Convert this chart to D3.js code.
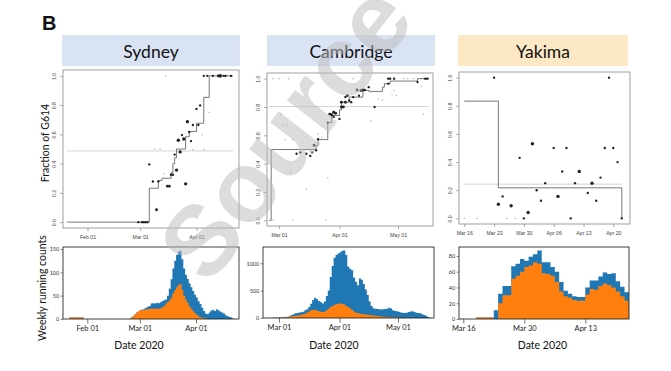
<!DOCTYPE html>
<html lang="en">
<head>
<meta charset="UTF-8">
<title>Fraction of G614</title>
<style>
  body { margin: 0; background: #fff; }
  svg { display: block; }
</style>
</head>
<body>
<svg width="671" height="371"></svg>
<script src="https://d3js.org/d3.v7.min.js"></script>
<script>
// ---- data ----
const cities = ["Sydney", "Cambridge", "Yakima"];
const fracTicks = [0, 0.2, 0.4, 0.6, 0.8, 1.0];

// Sydney
const sydStart = "2020-01-22";
const sydTotal = [3,3,3,3,3,3,3,3,0,0,
  0,0,0,0,0,0,0,0,0,0,0,0,0,0,0,0,0,0,0,0,0,0,0,0,3,6,10,14,17,
  20,20,22,24,26,28,33,34,33,35,34,36,38,40,42,50,65,85,108,125,137,144,147,128,108,95,86,76,68,60,52,
  46,38,32,24,17,12,10,14,18,20,17,21,19,16,14,12,8,6,5,3,1];
const sydG614 = [3,3,3,3,3,3,3,3,0,0,
  0,0,0,0,0,0,0,0,0,0,0,0,0,0,0,0,0,0,0,0,0,0,0,0,3,6,10,14,17,
  19,19,20,21,21,22,22,22,23,22,22,23,25,28,33,36,40,46,55,62,68,73,75,62,50,42,35,27,22,17,13,
  9,6,4,3,2,1,0,0,0,0,0,0,0,0,0,0,0,0,0,0,0];
const sydPoints = [
  ["2020-01-21",0,1],["2020-01-23",0,1],["2020-02-27",0,1],["2020-02-29",0,2],["2020-03-02",0,2],
  ["2020-03-03",0,2],["2020-03-04",0,2],["2020-03-05",0,2],["2020-03-06",0.395,2],["2020-03-08",0.278,2],
  ["2020-03-10",0.085,3],["2020-03-11",0.278,2],["2020-03-14",0.33,1],["2020-03-16",0.246,3],["2020-03-17",0.246,3],
  ["2020-03-18",0.324,2],["2020-03-19",0.324,2],["2020-03-21",0.356,4],["2020-03-20",0.462,2],["2020-03-22",0.56,4],
  ["2020-03-23",0.48,4],["2020-03-24",0.595,2],["2020-03-25",0.568,4],["2020-03-26",0.262,4],["2020-03-27",0.687,4],
  ["2020-03-28",0.616,2],["2020-03-29",0.554,2],["2020-03-30",0.664,2],["2020-03-30",0.497,1],["2020-04-01",0.774,2],
  ["2020-04-02",0.664,2],["2020-04-03",0.798,2],["2020-04-04",0.598,1],["2020-04-05",0.497,1],["2020-04-08",0.75,1],
  ["2020-03-09",0.5,1],["2020-03-12",0.5,1],["2020-03-15",1,1],["2020-04-05",1,2],["2020-04-07",1,2],
  ["2020-04-10",1,2],["2020-04-13",1,3],["2020-04-14",1,5],["2020-04-16",1,2],["2020-04-17",1,2],["2020-04-20",1,2]];
const sydStep = [["2020-01-21",0],["2020-03-06",0.232],["2020-03-11",0.285],["2020-03-13",0.30],["2020-03-18",0.338],
  ["2020-03-19",0.40],["2020-03-20",0.44],["2020-03-21",0.50],["2020-03-26",0.584],["2020-03-28",0.62],
  ["2020-04-01",0.676],["2020-04-05",0.853],["2020-04-08",1.0],["2020-04-21",1.0]];
const sydMean = 0.487;
const sydTopTicks = ["2020-02-01", "2020-03-01", "2020-04-01"];
const sydBotTicks = ["2020-02-01", "2020-03-01", "2020-04-01"];
const sydCountTicks = [0, 50, 100, 150];

// Cambridge
const camStart = "2020-02-26";
const camTotal = [3,4,5,6,
  8,10,15,20,25,30,55,70,85,90,100,105,115,140,160,200,260,330,370,345,
  310,290,265,300,400,500,750,950,1100,1150,1180,
  1200,1230,1235,1150,940,900,870,740,660,600,720,700,620,520,420,300,220,180,170,165,
  160,155,160,165,170,185,175,140,130,125,
  115,100,95,90,95,110,120,125,110,95,90,85,70,55,40,20,5];
const camG614 = [2,3,4,5,
  6,8,10,15,20,25,30,35,40,45,50,60,70,80,100,120,140,150,145,135,
  125,115,110,120,140,170,200,220,240,250,260,
  265,262,250,220,200,180,150,120,100,90,80,75,70,65,60,55,50,45,40,35,
  30,28,25,22,20,18,15,12,10,8,
  7,6,5,5,4,4,3,3,2,2,2,1,1,1,0,0,0];
const camPoints = [
  ["2020-02-27",0,1],["2020-02-27",1,1],["2020-03-01",1,1],["2020-03-06",1,1],["2020-03-02",0.75,1],
  ["2020-03-03",0.67,1],["2020-03-05",0.67,1],["2020-03-04",0.57,1],["2020-03-08",0.57,1],["2020-03-07",0.34,1],
  ["2020-03-08",0,1],["2020-03-15",0.22,1],["2020-03-25",0,1],["2020-03-26",0.30,1],["2020-03-13",0.55,1],
  ["2020-03-10",0.47,2],["2020-03-12",0.48,2],["2020-03-15",0.47,2],["2020-03-17",0.455,2],["2020-03-18",0.48,2],
  ["2020-03-19",0.53,3],["2020-03-20",0.495,2],["2020-03-21",0.61,1],["2020-03-21",0.573,2],["2020-03-23",0.585,1],
  ["2020-03-26",0.69,2],["2020-03-27",0.75,3],["2020-03-28",0.745,3],["2020-03-29",0.763,3],["2020-03-29",0.73,2],
  ["2020-03-30",0.756,3],["2020-04-01",0.716,2],["2020-04-02",0.80,3],["2020-04-02",0.834,3],["2020-04-03",0.80,3],
  ["2020-04-04",0.87,2],["2020-04-04",0.834,3],["2020-04-05",0.88,3],["2020-04-06",0.846,2],["2020-04-07",0.834,2],
  ["2020-04-08",0.87,2],["2020-04-08",1,1],["2020-04-10",0.92,3],["2020-04-11",0.88,2],["2020-04-12",0.917,3],
  ["2020-04-13",0.92,3],["2020-04-14",0.92,2],["2020-04-16",0.94,2],["2020-04-17",0.905,1],["2020-04-19",0.80,2],
  ["2020-04-17",0.70,1],["2020-04-21",0.858,1],["2020-04-23",0.85,1],["2020-04-26",1,2],["2020-04-26",0.965,2],
  ["2020-04-27",1,2],["2020-04-29",1,2],["2020-04-29",0.917,1],["2020-04-30",0.88,1],["2020-04-28",0.886,1],
  ["2020-05-04",1,1],["2020-05-06",1,1],["2020-05-09",1,1],["2020-05-11",0.976,2],["2020-05-13",0.945,1],
  ["2020-05-14",0.75,1],["2020-05-15",1,2],["2020-05-16",1,2]];
const camStep = [["2020-02-25",0],["2020-02-26",0.50],["2020-03-20",0.526],["2020-03-21",0.57],["2020-03-26",0.69],
  ["2020-03-28",0.74],["2020-04-01",0.78],["2020-04-02",0.834],["2020-04-06",0.87],["2020-04-13",0.917],
  ["2020-04-16",0.91],["2020-04-23",0.94],["2020-04-24",0.965],["2020-04-27",0.983],["2020-05-11",1.0],["2020-05-17",1.0]];
const camMean = 0.803;
const camTopTicks = ["2020-03-01", "2020-04-01", "2020-05-01"];
const camBotTicks = ["2020-03-01", "2020-04-01", "2020-05-01"];
const camCountTicks = [0, 500, 1000];

// Yakima
const yakStart = "2020-03-19";
const yakTotal = [2,2,2,2,11,32,42,42,67,70,76,74,79,82,87,72,72,66,60,47,36,32,29,28,28,40,49,49,54,59,57,58,48,41,34];
const yakG614 = [2,2,2,2,0,20,30,30,51,55,60,66,68,72,70,58,57,55,47,35,29,27,24,23,23,31,38,37,42,45,43,40,35,29,23];
const yakPoints = [
  ["2020-03-16",0,1],["2020-03-19",0,1],["2020-03-23",1,2],["2020-03-24",0.10,4],["2020-03-25",0.156,2],
  ["2020-03-26",0,1],["2020-03-27",0.09,4],["2020-03-28",0,1],["2020-03-29",0.43,2],["2020-03-30",0,2],
  ["2020-03-31",0.042,4],["2020-04-01",0.53,4],["2020-04-02",0.20,2],["2020-04-03",0.125,2],["2020-04-04",0.25,2],
  ["2020-04-06",0.50,2],["2020-04-07",0.156,4],["2020-04-08",0.333,2],["2020-04-09",0.50,2],["2020-04-10",0,2],
  ["2020-04-11",0.25,2],["2020-04-12",0.333,4],["2020-04-14",0.18,2],["2020-04-15",0.25,4],["2020-04-16",0.125,2],
  ["2020-04-17",0.29,2],["2020-04-18",0.50,2],["2020-04-19",1,2],["2020-04-20",0.50,2],["2020-04-21",0.40,2],
  ["2020-04-22",0,2]];
const yakStep = [["2020-03-16",0.833],["2020-03-24",0.217],["2020-04-22",0]];
const yakMean = 0.243;
const yakTopTicks = ["2020-03-16","2020-03-23","2020-03-30","2020-04-06","2020-04-13","2020-04-20"];
const yakBotTicks = ["2020-03-16","2020-03-30","2020-04-13"];
const yakCountTicks = [0, 20, 40, 60, 80];

// ---- helpers ----
const svg = d3.select("svg");
const parse = d3.timeParse("%Y-%m-%d");
const fmt = d3.timeFormat("%b %d");
const blue = "#1f77b4", orange = "#ff7f0e";

svg.append("rect").attr("width", 671).attr("height", 371).attr("fill", "#fff");

// time scale fitted from two tick positions, then stretched to the frame
function timeX(a, pa, b, pb, x0, x1) {
  const s = d3.scaleTime().domain([parse(a), parse(b)]).range([pa, pb]);
  return d3.scaleTime().domain([s.invert(x0), s.invert(x1)]).range([x0, x1]);
}

function daily(start, vals) {
  const d0 = parse(start);
  const out = vals.map((v, i) => ({ date: d3.timeDay.offset(d0, i), v: v }));
  out.push({ date: d3.timeDay.offset(d0, vals.length), v: vals[vals.length - 1] });
  return out;
}

const rScale = d3.scaleSqrt().domain([1, 5]).range([0.8, 1.9]);

function fracPanel(box, x, points, step, mean, ticks) {
  const y = d3.scaleLinear().domain([-0.04, 1.04]).range([box.y1, box.y0]);
  const g = svg.append("g");

  // mean line
  const st = step.map(d => ({ date: parse(d[0]), f: d[1] }));
  g.append("line")
    .attr("x1", x(st[0].date)).attr("x2", x(st[st.length - 1].date))
    .attr("y1", y(mean)).attr("y2", y(mean))
    .attr("stroke", "#999").attr("stroke-width", 0.7).attr("stroke-dasharray", "1.2,0.8");

  // step line
  g.append("path")
    .datum(st)
    .attr("d", d3.line().x(d => x(d.date)).y(d => y(d.f)).curve(d3.curveStepAfter))
    .attr("fill", "none").attr("stroke", "#555").attr("stroke-width", 0.8);

  g.selectAll("circle").data(points).join("circle")
    .attr("cx", d => x(parse(d[0])))
    .attr("cy", d => y(d[1]))
    .attr("r", d => rScale(d[2]))
    .attr("fill", d => d[2] === 1 ? "#bdbdbd" : "#222");

  g.append("rect")
    .attr("x", box.x0).attr("y", box.y0)
    .attr("width", box.x1 - box.x0).attr("height", box.y1 - box.y0)
    .attr("fill", "none").attr("stroke", "#777").attr("stroke-width", 0.7);

  const xa = g.append("g").attr("transform", `translate(0,${box.y1})`)
    .call(d3.axisBottom(x).tickValues(ticks.map(parse)).tickFormat(fmt).tickSize(3).tickPadding(4));
  xa.select(".domain").remove();
  xa.selectAll("line").attr("stroke", "#777").attr("stroke-width", 0.6);
  xa.selectAll("text").attr("font-family", "Liberation Sans, Arial, sans-serif")
    .attr("font-size", 5.2).attr("fill", "#444");

  const ya = g.append("g").attr("transform", `translate(${box.x0},0)`)
    .call(d3.axisLeft(y).tickValues(fracTicks).tickFormat(d3.format(".1f")).tickSize(3));
  ya.select(".domain").remove();
  ya.selectAll("line").attr("stroke", "#777").attr("stroke-width", 0.6);
  ya.selectAll("text")
    .attr("x", null).attr("dy", null)
    .attr("text-anchor", "middle")
    .attr("transform", "translate(-7.5,0) rotate(-90)")
    .attr("font-family", "Liberation Sans, Arial, sans-serif")
    .attr("font-size", 5.2).attr("fill", "#444");
}

function countPanel(box, x, start, total, g614, yticks, xticks) {
  const tot = daily(start, total), gg = daily(start, g614);
  const y = d3.scaleLinear().domain([0, d3.max(total) * 1.05]).range([box.y1, box.y0]);
  const g = svg.append("g");
  const area = d3.area().x(d => x(d.date)).y0(y(0)).y1(d => y(d.v)).curve(d3.curveStepAfter);

  g.append("path").datum(tot).attr("d", area).attr("fill", blue);
  g.append("path").datum(gg).attr("d", area).attr("fill", orange);

  g.append("rect")
    .attr("x", box.x0).attr("y", box.y0)
    .attr("width", box.x1 - box.x0).attr("height", box.y1 - box.y0)
    .attr("fill", "none").attr("stroke", "#111").attr("stroke-width", 0.8);

  const xa = g.append("g").attr("transform", `translate(0,${box.y1})`)
    .call(d3.axisBottom(x).tickValues(xticks.map(parse)).tickFormat(fmt).tickSize(4.5).tickPadding(2.5));
  xa.select(".domain").remove();
  xa.selectAll("line").attr("stroke", "#333").attr("stroke-width", 0.7);
  xa.selectAll("text").attr("font-family", "Lato, sans-serif").attr("font-size", 7.5).attr("fill", "#222");

  const ya = g.append("g").attr("transform", `translate(${box.x0},0)`)
    .call(d3.axisLeft(y).tickValues(yticks).tickFormat(d3.format("d")).tickSize(2.3).tickPadding(1.5));
  ya.select(".domain").remove();
  ya.selectAll("line").attr("stroke", "#333").attr("stroke-width", 0.6);
  ya.selectAll("text").attr("font-family", "Lato, sans-serif").attr("font-size", 5.5).attr("fill", "#333");
}

// ---- titles ----
const titleBoxes = [
  { x0: 62, x1: 240, fill: "#dae3f3" },
  { x0: 267, x1: 435, fill: "#dae3f3" },
  { x0: 458, x1: 628, fill: "#fce8c4" }
];
titleBoxes.forEach((b, i) => {
  svg.append("rect").attr("x", b.x0).attr("y", 35).attr("width", b.x1 - b.x0).attr("height", 31).attr("fill", b.fill);
  svg.append("text").attr("x", (b.x0 + b.x1) / 2).attr("y", 57.5)
    .attr("text-anchor", "middle").attr("font-family", "Lato, sans-serif").attr("font-size", 17.5)
    .attr("fill", "#111").text(cities[i]);
});

svg.append("text").attr("x", 42).attr("y", 30).attr("font-family", "Liberation Sans, Arial, sans-serif")
  .attr("font-weight", "bold").attr("font-size", 20).attr("fill", "#111").text("B");

// ---- top panels ----
fracPanel({ x0: 63, x1: 239, y0: 70, y1: 228 },
  timeX("2020-02-01", 87.5, "2020-04-01", 196.5, 63, 239), sydPoints, sydStep, sydMean, sydTopTicks);
fracPanel({ x0: 267, x1: 433, y0: 73, y1: 226 },
  timeX("2020-03-01", 279, "2020-05-01", 398, 267, 433), camPoints, camStep, camMean, camTopTicks);
fracPanel({ x0: 459, x1: 630, y0: 72, y1: 224 },
  timeX("2020-03-16", 464.3, "2020-04-20", 613.3, 459, 630), yakPoints, yakStep, yakMean, yakTopTicks);

// ---- bottom panels ----
countPanel({ x0: 63, x1: 239, y0: 247, y1: 319 },
  timeX("2020-02-01", 87.3, "2020-04-01", 196, 63, 239), sydStart, sydTotal, sydG614, sydCountTicks, sydBotTicks);
countPanel({ x0: 263, x1: 434, y0: 247, y1: 318 },
  timeX("2020-03-01", 279, "2020-05-01", 398, 263, 434), camStart, camTotal, camG614, camCountTicks, camBotTicks);
countPanel({ x0: 459, x1: 629, y0: 247, y1: 319 },
  timeX("2020-03-16", 463.3, "2020-04-13", 585.3, 459, 629), yakStart, yakTotal, yakG614, yakCountTicks, yakBotTicks);

// ---- axis titles ----
[139, 334, 542.5].forEach(cx => {
  svg.append("text").attr("x", cx).attr("y", 349).attr("text-anchor", "middle")
    .attr("font-family", "Lato, sans-serif").attr("font-size", 10.5).attr("fill", "#111").text("Date 2020");
});
svg.append("text").attr("transform", "translate(49,143) rotate(-90)").attr("text-anchor", "middle")
  .attr("font-family", "Lato, sans-serif").attr("font-size", 10.5).attr("fill", "#111").text("Fraction of G614");
svg.append("text").attr("transform", "translate(46,288) rotate(-90)").attr("text-anchor", "middle")
  .attr("font-family", "Lato, sans-serif").attr("font-size", 10.5).attr("fill", "#111").text("Weekly running counts");

// ---- watermark (runs off the top edge, as in the source figure) ----
svg.append("text").attr("transform", "translate(285,132) rotate(-52)").attr("text-anchor", "middle")
  .attr("dy", "0.35em").attr("font-family", "Liberation Sans, Arial, sans-serif").attr("font-weight", "bold")
  .attr("font-size", 100).attr("fill", "#bbb").attr("opacity", 0.5).text("Source");
</script>
</body>
</html>
